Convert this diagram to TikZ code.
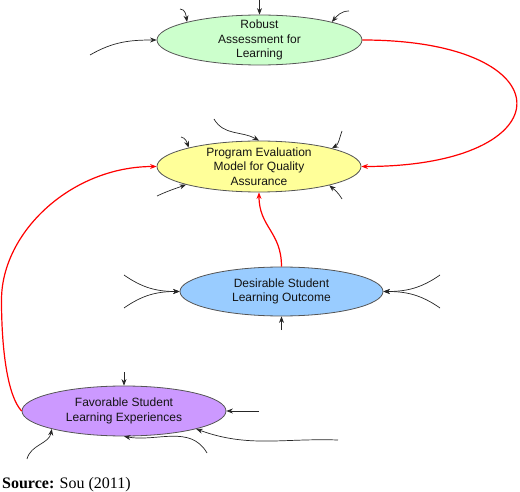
\documentclass[tikz,border=0pt]{standalone}
\usepackage{fontspec}
\setmainfont{Liberation Sans}
\newfontfamily\srcfont{Liberation Serif}
\usetikzlibrary{arrows.meta,shapes.geometric}
\definecolor{cgreen}{RGB}{204,255,204}
\definecolor{cyellow}{RGB}{255,255,153}
\definecolor{cblue}{RGB}{153,204,255}
\definecolor{cpurple}{RGB}{204,153,255}
\definecolor{cborder}{RGB}{85,85,85}
\definecolor{ctext}{RGB}{20,20,20}
\begin{document}
\begin{tikzpicture}[x=1pt,y=1pt,
  ell/.style={ellipse,draw=cborder,line width=0.8pt,inner sep=0pt},
  txt/.style={align=center,text=ctext,font=\fontsize{12}{14.5}\selectfont,inner sep=0pt},
  inarrow/.style={draw=black!85,line width=0.7pt,-{Stealth[length=6.5pt,width=5pt]}},
  redarrow/.style={draw=red,line width=1.2pt,-{Stealth[length=6.5pt,width=5pt]}}]
\useasboundingbox (0,0) rectangle (520,-492);

% ellipses
\node[ell,fill=cgreen,minimum width=205pt,minimum height=50pt] (g) at (259.5,-40) {};
\node[txt] (gt) at (g.center) {Robust\\Assessment for\\Learning};
\node[ell,fill=cyellow,minimum width=204pt,minimum height=51pt] (y) at (259,-166.5) {};
\node[txt] (yt) at (y.center) {Program Evaluation\\Model for Quality\\Assurance};
\node[ell,fill=cblue,minimum width=203pt,minimum height=49pt] (b) at (281.5,-291.5) {};
\node[txt] (bt) at (b.center) {Desirable Student\\Learning Outcome};
\node[ell,fill=cpurple,minimum width=204pt,minimum height=50pt] (p) at (124,-411) {};
\node[txt] (pt) at (p.center) {Favorable Student\\Learning Experiences};

% free ends
\coordinate (gtopS) at (259.5,0);
\coordinate (gtlS) at (180,-9);
\coordinate (gtrS) at (349,-11);
\coordinate (glS) at (90,-55);
\coordinate (ytopS) at (214,-119);
\coordinate (ytlS) at (181,-137);
\coordinate (ytrS) at (342,-131);
\coordinate (yblS) at (157,-196);
\coordinate (ybrS) at (342,-199);
\coordinate (bl1S) at (124,-275);
\coordinate (bl2S) at (124,-308);
\coordinate (br1S) at (440,-275);
\coordinate (br2S) at (440,-308);
\coordinate (bbotS) at (281.5,-330);
\coordinate (ptopS) at (124,-372);
\coordinate (prS) at (259,-411);
\coordinate (pbrS) at (338,-440);
\coordinate (pbmS) at (207,-453);
\coordinate (pblS) at (27,-459);
\coordinate (rl) at (1.5,-300);

% black arrows: green
\draw[inarrow] (gtopS) -- (g.north);
\draw[inarrow] (gtlS) to[out=0,in=100] (g.166);
\draw[inarrow] (gtrS) to[out=180,in=50] (g.14);
\draw[inarrow] (glS) to[out=30,in=180] (g.west);
% yellow
\draw[inarrow] (ytopS) to[out=-60,in=150] (y.north);
\draw[inarrow] (ytlS) to[out=-10,in=110] (y.165.5);
\draw[inarrow] (ytrS) to[out=-110,in=30] (y.14.5);
\draw[inarrow] (yblS) to[out=25,in=200] (y.194.5);
\draw[inarrow] (ybrS) to[out=120,in=-40] (y.345.5);
% blue
\draw[inarrow] (bl1S) to[out=-35,in=180] (b.west);
\draw[inarrow] (bl2S) to[out=35,in=180] (b.west);
\draw[inarrow] (br1S) to[out=215,in=0] (b.east);
\draw[inarrow] (br2S) to[out=145,in=0] (b.east);
\draw[inarrow] (bbotS) -- (b.south);
% purple
\draw[inarrow] (ptopS) -- (p.north);
\draw[inarrow] (prS) -- (p.east);
\draw[inarrow] (pbrS) to[out=178,in=-20] (p.346.5);
\draw[inarrow] (pbmS) to[out=120,in=-10] (p.south);
\draw[inarrow] (pblS) to[out=75,in=-100] (p.194.2);

% red arrows
\draw[redarrow] (g.east) .. controls +(206,0) and +(206,0) .. (y.east);
\draw[redarrow] (b.north) .. controls +(0,35) and +(0,-35) .. (y.south);
\draw[redarrow] (p.west) .. controls +(-14,15) and +(0,-50) .. (rl) .. controls +(0,68) and +(-85,0) .. (y.west);

% source
\node[anchor=base west,inner sep=0pt,font=\srcfont\fontsize{16}{18}\selectfont] (src) at (2,-488) {\textbf{Source:} Sou (2011)};
\end{tikzpicture}
\end{document}
